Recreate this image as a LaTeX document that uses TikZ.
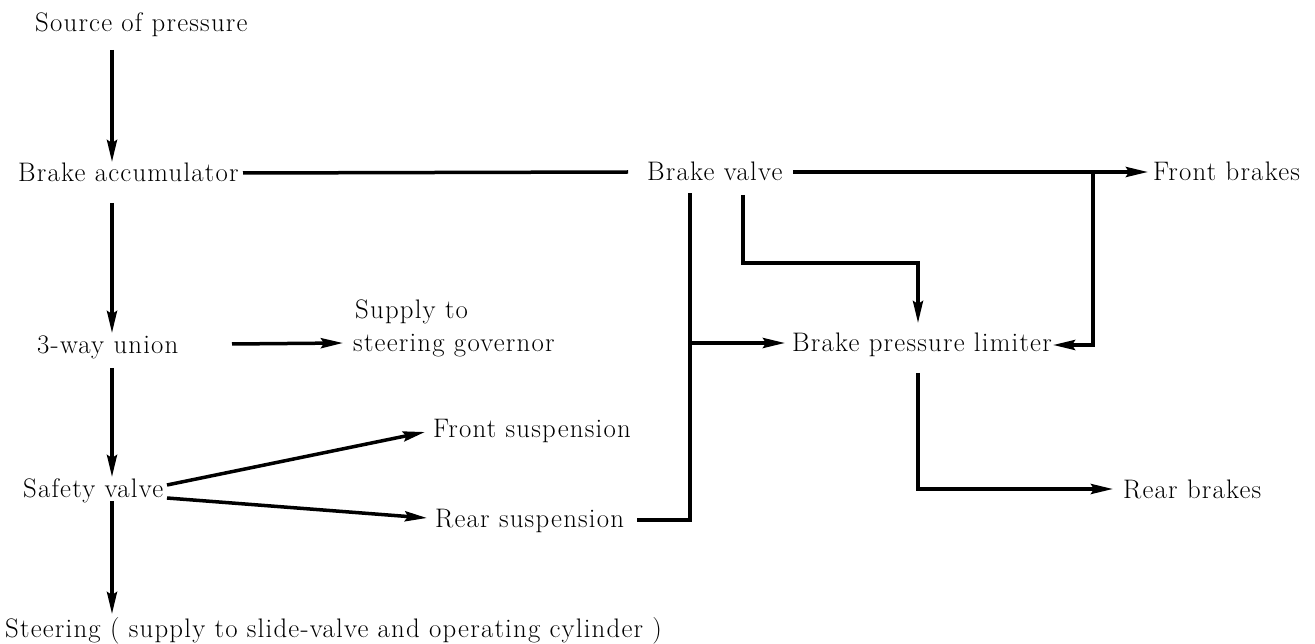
\documentclass[tikz,border=0pt]{standalone}
\usepackage{fontspec}
\newfontfamily\drawfont{Latin Modern Roman}[LetterSpace=4.5]
\usetikzlibrary{arrows.meta,calc}
\tikzset{
  lbl/.style={anchor=west, inner sep=0pt, text height=18pt, text depth=0pt, font=\drawfont\fontsize{26.8}{30}\selectfont},
  pipe/.style={line width=3.5pt},
  flow/.style={pipe, -{Stealth[length=22pt,width=10pt,inset=3pt]}}
}
\begin{document}
\begin{tikzpicture}[x=1pt,y=-1pt]
\useasboundingbox (0,0) rectangle (1315,644);
% nodes
\node[lbl] (src) at (35,23)  {Source of pressure};
\node[lbl] (acc) at (18,173) {Brake accumulator};
\node[lbl] (bv)  at (647,172) {Brake valve};
\node[lbl] (fb)  at (1153,172) {Front brakes};
\node[lbl] (uni) at (37,345) {3-way union};
\node[lbl] (sup1) at (355,310) {Supply to};
\node[lbl] (sup2) at (353,343) {steering governor};
\node[lbl] (bpl) at (792,343) {Brake pressure limiter};
\node[lbl] (fs)  at (433,428) {Front suspension};
\node[lbl] (sv)  at (23,488) {Safety valve};
\node[lbl] (rs)  at (435,518) {Rear suspension};
\node[lbl] (rb)  at (1123,489) {Rear brakes};
\node[lbl] (st)  at (5,628) {Steering ( supply to slide-valve and operating cylinder )};
% junctions
\coordinate (j1) at ($(fb.west)+(-60,0)$);
\coordinate (j2) at ($(bpl.west)+(-102,0)$);
% left column
\draw[flow] ($(src.west)+(77,27)$) -- ($(acc.west)+(94,-11)$);
\draw[flow] ($(acc.west)+(94,30)$) -- ($(uni.west)+(75,-12)$);
\draw[flow] ($(uni.west)+(75,23)$) -- ($(sv.west)+(89,-11)$);
\draw[flow] ($(sv.west)+(89,13)$) -- ($(st.west)+(107,-14)$);
\draw[flow] ($(uni.west)+(195,-1)$) -- ($(sup2.west)+(-10,0)$);
\draw[flow] ($(sv.west)+(144,-3)$) -- ($(fs.west)+(-8,4)$);
\draw[flow] ($(sv.west)+(144,10)$) -- ($(rs.west)+(-8,0)$);
% brake circuit
\draw[pipe] ($(acc.west)+(225,0)$) -- ($(bv.west)+(-19,0)$);
\draw[flow] ($(bv.west)+(146,0)$) -- ($(fb.west)+(-5,0)$);
\draw[flow, line join=miter] (j1) |- ($(bpl.west)+(261,2)$);
\draw[flow, line join=miter] ($(bv.west)+(96,23)$) -- ++(0,68) -- ++(175,0) -- ($(bpl.west)+(126,-20)$);
\draw[pipe, line join=miter] ($(rs.west)+(202,2)$) -| ($(bv.west)+(43,21)$);
\draw[flow] (j2) -- ($(bpl.west)+(-7,0)$);
\draw[flow, line join=miter] ($(bpl.west)+(126,30)$) |- ($(rb.west)+(-10,0)$);
\end{tikzpicture}
\end{document}
